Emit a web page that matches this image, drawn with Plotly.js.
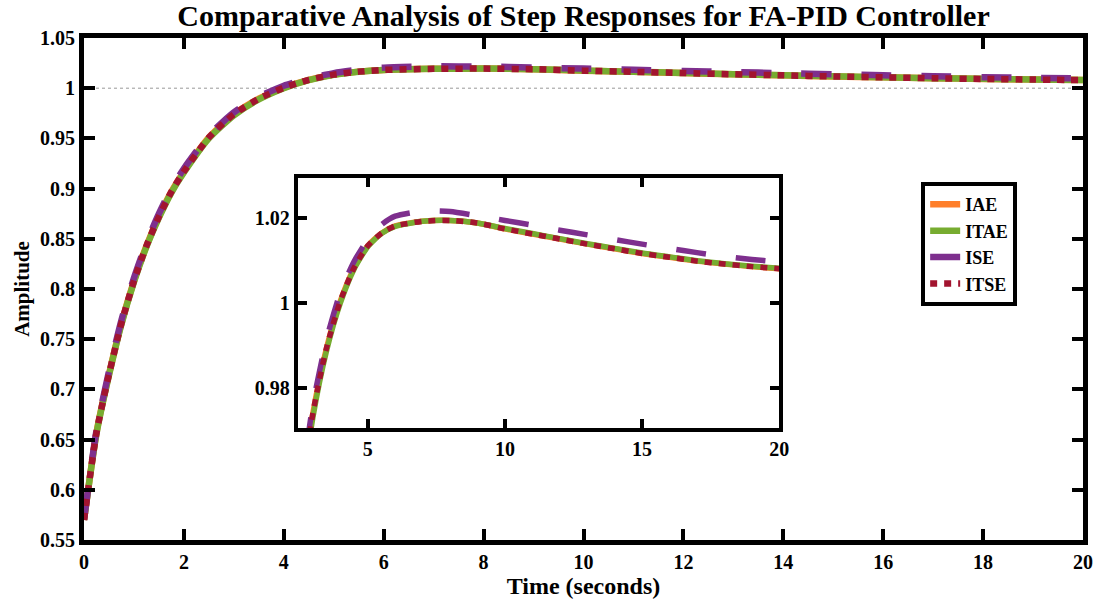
<!DOCTYPE html>
<html><head><meta charset="utf-8">
<script src="https://cdn.plot.ly/plotly-3.0.1.min.js"></script>
<style>html,body{margin:0;padding:0;background:#fff}#chart{width:1103px;height:601px}</style>
</head><body><div id="chart"></div>
<script>
const titleText = 'Comparative Analysis of Step Responses for FA-PID Controller';
const seriesNames = ['IAE', 'ITAE', 'ISE', 'ITSE'];
const time = [0, 0.25, 0.5, 0.75, 1, 1.25, 1.5, 1.75, 2, 2.5, 3, 3.5, 4, 4.5, 5, 5.5, 6, 7, 8, 9, 10, 11, 12, 13, 14, 15, 16, 17, 18, 19, 20];
const iae  = [0.570, 0.657, 0.715, 0.766, 0.808, 0.843, 0.872, 0.897, 0.917, 0.951, 0.974, 0.9895, 1.0005, 1.0083, 1.0135, 1.0165, 1.0182, 1.0193, 1.0195, 1.0189, 1.0175, 1.0163, 1.0151, 1.0139, 1.0128, 1.0117, 1.0108, 1.0099, 1.0092, 1.0086, 1.0081];
const itae = [0.570, 0.656, 0.714, 0.765, 0.807, 0.842, 0.871, 0.896, 0.916, 0.950, 0.973, 0.9888, 1.0000, 1.0080, 1.0133, 1.0164, 1.0181, 1.0193, 1.0195, 1.0189, 1.0176, 1.0164, 1.0152, 1.0140, 1.0129, 1.0118, 1.0109, 1.0100, 1.0093, 1.0087, 1.0082];
const ise  = [0.570, 0.659, 0.718, 0.769, 0.811, 0.846, 0.875, 0.900, 0.920, 0.953, 0.976, 0.9915, 1.0025, 1.0098, 1.0150, 1.0185, 1.0205, 1.0217, 1.0216, 1.0206, 1.0195, 1.0184, 1.0172, 1.0161, 1.0150, 1.0139, 1.0129, 1.0119, 1.0110, 1.0103, 1.0097];
const itse = [0.570, 0.657, 0.715, 0.766, 0.808, 0.843, 0.872, 0.897, 0.917, 0.951, 0.974, 0.9895, 1.0005, 1.0083, 1.0135, 1.0165, 1.0182, 1.0193, 1.0195, 1.0189, 1.0175, 1.0163, 1.0151, 1.0139, 1.0128, 1.0117, 1.0108, 1.0099, 1.0092, 1.0086, 1.0081];
const mainXTicks = [0, 2, 4, 6, 8, 10, 12, 14, 16, 18, 20];
const mainYTicks = [0.55, 0.6, 0.65, 0.7, 0.75, 0.8, 0.85, 0.9, 0.95, 1, 1.05];
const mainYTickText = ['0.55', '0.6', '0.65', '0.7', '0.75', '0.8', '0.85', '0.9', '0.95', '1', '1.05'];
const insetXTicks = [5, 10, 15, 20];
const insetYTicks = [0.98, 1, 1.02];
const insetYTickText = ['0.98', '1', '1.02'];
const refLevel = 1;

const allY = [iae, itae, ise, itse];
const colors = ['#FF7F2A', '#77AC30', '#7E2F8E', '#A2142F'];
const dashes = ['solid', 'solid', '30px,30px', '7px,7px'];

const traces = [];
allY.forEach((ys, i) => {
  traces.push({x: time, y: ys, name: seriesNames[i], type: 'scatter', mode: 'lines',
    line: {color: colors[i], width: 6.5, dash: dashes[i], shape: 'spline', smoothing: 0.6},
    xaxis: 'x', yaxis: 'y', showlegend: true});
});
allY.forEach((ys, i) => {
  traces.push({x: time, y: ys, name: seriesNames[i], type: 'scatter', mode: 'lines',
    line: {color: colors[i], width: 5.5, dash: dashes[i], shape: 'spline', smoothing: 0.6},
    xaxis: 'x2', yaxis: 'y2', showlegend: false});
});

const tickFont = {family: 'Liberation Serif', size: 20, color: '#000', weight: 700};
const axBase = {showline: true, linecolor: '#000', mirror: 'ticks', ticks: 'inside',
  tickcolor: '#000', showgrid: false, zeroline: false, tickfont: tickFont};

const layout = {
  width: 1103, height: 601,
  margin: {l: 84, r: 20, t: 38, b: 61},
  paper_bgcolor: '#fff', plot_bgcolor: '#fff',
  title: {text: titleText, x: 0.5, xref: 'paper', y: 0.974, yref: 'container', yanchor: 'middle',
    font: {family: 'Liberation Serif', size: 30, color: '#000', weight: 700}},
  xaxis: Object.assign({}, axBase, {domain: [0, 1], range: [0, 20], tickvals: mainXTicks,
    linewidth: 5, ticklen: 11, tickwidth: 4,
    title: {text: 'Time (seconds)', standoff: 2, font: {family: 'Liberation Serif', size: 24, color: '#000', weight: 700}}}),
  yaxis: Object.assign({}, axBase, {domain: [0, 1], range: [0.55, 1.05], tickvals: mainYTicks, ticktext: mainYTickText,
    linewidth: 5, ticklen: 11, tickwidth: 4,
    title: {text: 'Amplitude', standoff: 6, font: {family: 'Liberation Serif', size: 21, color: '#000', weight: 700}}}),
  xaxis2: Object.assign({}, axBase, {domain: [0.214, 0.696], anchor: 'y2', range: [2.45, 20], tickvals: insetXTicks,
    linewidth: 4, ticklen: 9, tickwidth: 4}),
  yaxis2: Object.assign({}, axBase, {domain: [0.223, 0.721], anchor: 'x2', range: [0.9705, 1.0295], tickvals: insetYTicks, ticktext: insetYTickText,
    linewidth: 4, ticklen: 9, tickwidth: 4}),
  shapes: [
    {type: 'line', xref: 'x domain', yref: 'y', x0: 0, x1: 1, y0: refLevel, y1: refLevel, layer: 'below',
      line: {color: '#999', width: 1, dash: 'dot'}},
    {type: 'line', xref: 'x2 domain', yref: 'y2', x0: 0, x1: 1, y0: refLevel, y1: refLevel, layer: 'below',
      line: {color: '#999', width: 1, dash: 'dot'}}
  ],
  legend: {x: 0.838, y: 0.713, xanchor: 'left', yanchor: 'top', bgcolor: '#fff', bordercolor: '#000', borderwidth: 4,
    font: {family: 'Liberation Serif', size: 18, color: '#000', weight: 700}, tracegroupgap: 0, itemwidth: 30},
  showlegend: true
};

Plotly.newPlot('chart', traces, layout, {displayModeBar: false, staticPlot: true});
</script>
</body></html>
